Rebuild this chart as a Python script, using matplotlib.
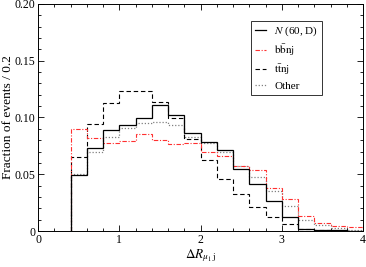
import numpy as np
import matplotlib
matplotlib.use("Agg")
import matplotlib.pyplot as plt
from matplotlib.ticker import MultipleLocator, FuncFormatter
from matplotlib.lines import Line2D

plt.rcParams['font.family'] = ['Liberation Serif', 'DejaVu Serif']
plt.rcParams['mathtext.fontset'] = 'stix'

bin_edges = np.round(np.arange(0.4, 4.01, 0.2), 1)

signal_N = [0.049, 0.073, 0.089, 0.093, 0.0996, 0.111, 0.1025, 0.086, 0.0784, 0.0714,
            0.0544, 0.0417, 0.0267, 0.0123, 0.0022, 0.001, 0.0005, 0.0]
bbnj = [0.0899, 0.0822, 0.0775, 0.079, 0.0852, 0.080, 0.0764, 0.0778, 0.0696, 0.0664,
        0.0575, 0.0537, 0.0376, 0.0282, 0.0135, 0.0073, 0.0047, 0.0035]
ttnj = [0.0652, 0.0946, 0.1125, 0.123, 0.123, 0.114, 0.0993, 0.0808, 0.0626, 0.0458,
        0.0323, 0.0214, 0.0126, 0.0062, 0.0018, 0.0005, 0.0, 0.0]
other = [0.0502, 0.0699, 0.0826, 0.091, 0.0949, 0.0963, 0.0934, 0.083, 0.0773, 0.0693,
         0.057, 0.048, 0.0352, 0.0223, 0.0097, 0.0053, 0.0024, 0.001]

labels = [r'$N$ (60, D)', r'$\mathrm{b\bar{b}nj}$', r'$\mathrm{t\bar{t}nj}$', 'Other']

fig = plt.figure(figsize=(3.66, 2.67), dpi=100)
ax = fig.add_axes([38/366, 1-231/267, 325/366, 227/267])

red = '#ff3030'
ds_red = (0, (4, 1.5, 1, 1.5))
ds_tt = (0, (4, 2.5))
ds_ot = (0, (1, 1.5))

ax.stairs(other, bin_edges, color='#808080', lw=0.9, ls=ds_ot)
ax.stairs(ttnj, bin_edges, color='black', lw=0.8, ls=ds_tt)
ax.stairs(bbnj, bin_edges, color=red, lw=0.8, ls=ds_red)
ax.stairs(signal_N, bin_edges, color='black', lw=0.9)

ax.set_xlim(0, 4)
ax.set_ylim(0, 0.20)
ax.xaxis.set_major_locator(MultipleLocator(1))
ax.xaxis.set_minor_locator(MultipleLocator(0.2))
ax.yaxis.set_major_locator(MultipleLocator(0.05))
ax.yaxis.set_minor_locator(MultipleLocator(0.01))
ax.yaxis.set_major_formatter(FuncFormatter(lambda v, p: '0' if abs(v) < 1e-9 else f'{v:.2f}'))
ax.tick_params(which='both', direction='in', top=True, right=True, labelsize=8.5, pad=2)
ax.tick_params(which='major', length=4, width=0.6)
ax.tick_params(which='minor', length=2, width=0.6)
for s in ax.spines.values():
    s.set_linewidth(0.7)

ax.set_xlabel(r'$\Delta R_{\mu_1\,\mathrm{j}}$', fontsize=9.5, labelpad=1)
ax.set_ylabel('Fraction of events / 0.2', fontsize=9.6)
ax.yaxis.set_label_coords(-0.074, 0.5)

h = [Line2D([], [], color='black', lw=0.9),
     Line2D([], [], color=red, lw=0.8, ls=ds_red),
     Line2D([], [], color='black', lw=0.8, ls=ds_tt),
     Line2D([], [], color='#808080', lw=0.9, ls=ds_ot)]
leg = ax.legend(h, labels, loc='upper right', bbox_to_anchor=(322/366, 1-21/267), bbox_transform=fig.transFigure,
                fontsize=8, frameon=True, fancybox=False, edgecolor='black', handlelength=1.0,
                handletextpad=0.7, borderpad=0.35, labelspacing=0.35, borderaxespad=0)
leg.get_frame().set_linewidth(0.7)

fig.savefig('out.png', dpi=100)
